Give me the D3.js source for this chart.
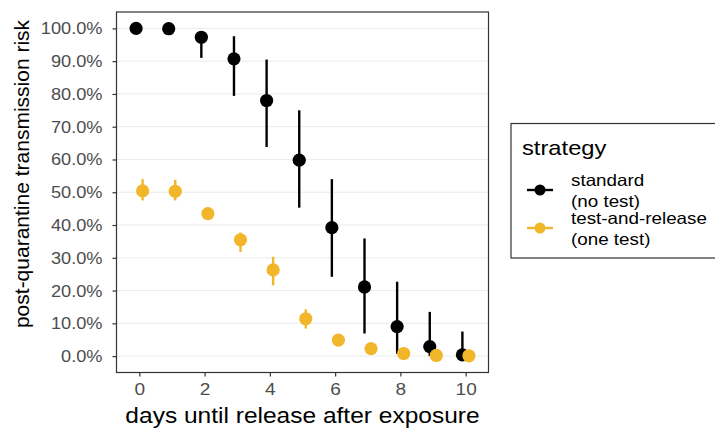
<!DOCTYPE html>
<html>
<head>
<meta charset="utf-8">
<script src="https://cdn.jsdelivr.net/npm/d3@7"></script>
<style>
body { margin: 0; background: #fff; }
svg { font-family: "Liberation Sans", Arial, sans-serif; }
</style>
</head>
<body>
<svg id="chart"></svg>
<script>
var width = 715;
var height = 433;

// data
var days = [0, 1, 2, 3, 4, 5, 6, 7, 8, 9, 10];
var standardMid = [100, 99.9, 97.3, 90.7, 78.0, 59.8, 39.2, 21.1, 9.0, 2.9, 0.4];
var standardLo  = [100, 99.8, 91.0, 79.4, 63.8, 45.3, 24.2, 6.9, 0.7, 0.0, 0.0];
var standardHi  = [100, 100, 98.5, 97.6, 90.5, 75.0, 54.0, 35.9, 22.7, 13.5, 7.5];
var testMid = [50.4, 50.3, 43.5, 35.5, 26.3, 11.4, 4.9, 2.3, 0.8, 0.2, 0.1];
var testLo  = [47.5, 47.5, 41.8, 31.8, 21.6, 8.4, 4.0, 1.8, 0.5, 0.1, 0.0];
var testHi  = [54.0, 53.8, 45.5, 37.7, 30.3, 14.3, 5.9, 2.9, 1.2, 0.4, 0.2];
var yTicks = [0, 10, 20, 30, 40, 50, 60, 70, 80, 90, 100];
var xTicks = [0, 2, 4, 6, 8, 10];

var series = [
    {name: 'standard', label: ['standard', '(no test)'], color: '#000000', offset: -0.1,
     mid: standardMid, lo: standardLo, hi: standardHi},
    {name: 'test', label: ['test-and-release', '(one test)'], color: '#f2b62b', offset: 0.1,
     mid: testMid, lo: testLo, hi: testHi}
];

var panel = {left: 116.5, right: 488.5, top: 12, bottom: 372.5};

// the original text is a bit wider than Liberation Sans
function stretch(sel, k){
    sel.each(function(){
        var w = this.getComputedTextLength();
        d3.select(this)
            .attr('textLength', w * k)
            .attr('lengthAdjust', 'spacingAndGlyphs');
    });
}

var xScale = d3.scaleLinear()
                .domain([-0.7, 10.7])
                .range([panel.left, panel.right]);

var yScale = d3.scaleLinear()
                .domain([-5, 105])
                .range([panel.bottom, panel.top]);

var svg = d3.select('#chart')
    .attr('width', width)
    .attr('height', height);

// gridlines
svg.append('g')
    .selectAll('line')
    .data(yTicks)
    .enter()
    .append('line')
        .attr('x1', panel.left)
        .attr('x2', panel.right)
        .attr('y1', d => yScale(d))
        .attr('y2', d => yScale(d))
        .attr('stroke', '#ebebeb')
        .attr('stroke-width', 1);

var yAxis = d3.axisLeft(yScale)
                .tickValues(yTicks)
                .tickFormat(d => d.toFixed(1) + '%')
                .tickSize(4)
                .tickPadding(10);

var xAxis = d3.axisBottom(xScale)
                .tickValues(xTicks)
                .tickSize(4)
                .tickPadding(6);

var gy = svg.append('g')
    .attr('transform', 'translate(' + panel.left + ',0)')
    .call(yAxis);

var gx = svg.append('g')
    .attr('transform', 'translate(0,' + panel.bottom + ')')
    .call(xAxis);

[gx, gy].forEach(function(g){
    g.select('.domain').remove();
    g.selectAll('.tick line').attr('stroke', '#333').attr('stroke-width', 1.2);
    g.selectAll('.tick text')
        .attr('fill', '#4d4d4d')
        .style('font-size', '17px')
        .style('font-family', '"Liberation Sans", Arial, sans-serif');
});
stretch(gx.selectAll('.tick text'), 1.12);
stretch(gy.selectAll('.tick text'), 1.07);

// error bars and points
series.forEach(function(s){
    var g = svg.append('g');
    g.selectAll('line')
        .data(days)
        .enter()
        .append('line')
            .attr('x1', (d, i) => xScale(d + s.offset))
            .attr('x2', (d, i) => xScale(d + s.offset))
            .attr('y1', (d, i) => yScale(s.lo[i]))
            .attr('y2', (d, i) => yScale(s.hi[i]))
            .attr('stroke', s.color)
            .attr('stroke-width', 2.4);
    g.selectAll('circle')
        .data(days)
        .enter()
        .append('circle')
            .attr('cx', (d, i) => xScale(d + s.offset))
            .attr('cy', (d, i) => yScale(s.mid[i]))
            .attr('r', 6.6)
            .attr('fill', s.color);
});

// panel border
svg.append('rect')
    .attr('x', panel.left)
    .attr('y', panel.top)
    .attr('width', panel.right - panel.left)
    .attr('height', panel.bottom - panel.top)
    .attr('fill', 'none')
    .attr('stroke', '#333')
    .attr('stroke-width', 1.2);

// axis titles
var xTitle = svg.append('text')
    .attr('x', (panel.left + panel.right) / 2)
    .attr('y', 423)
    .style('text-anchor', 'middle')
    .style('font-size', '21.5px')
    .text('days until release after exposure');
stretch(xTitle, 1.14);

svg.append('text')
    .attr('x', -174)
    .attr('y', 29)
    .attr('transform', 'rotate(-90)')
    .style('text-anchor', 'middle')
    .style('font-size', '21px')
    .text('post-quarantine transmission risk');

// legend
var legend = svg.append('g');
legend.append('rect')
    .attr('x', 511)
    .attr('y', 123.5)
    .attr('width', 220)
    .attr('height', 134.5)
    .attr('fill', 'none')
    .attr('stroke', '#333')
    .attr('stroke-width', 1.2);

var legendTitle = legend.append('text')
    .attr('x', 522)
    .attr('y', 155)
    .style('font-size', '21px')
    .text('strategy');
stretch(legendTitle, 1.13);

var keyY = [190, 228];
series.forEach(function(s, i){
    legend.append('line')
        .attr('x1', 527).attr('x2', 553)
        .attr('y1', keyY[i]).attr('y2', keyY[i])
        .attr('stroke', s.color)
        .attr('stroke-width', 2.4);
    legend.append('circle')
        .attr('cx', 540).attr('cy', keyY[i])
        .attr('r', 5.5)
        .attr('fill', s.color);
    var t1 = legend.append('text')
        .attr('x', 571)
        .attr('y', keyY[i] - 4)
        .style('font-size', '16.5px')
        .text(s.label[0]);
    var t2 = legend.append('text')
        .attr('x', 571)
        .attr('y', keyY[i] + 16.5)
        .style('font-size', '16.5px')
        .text(s.label[1]);
    stretch(t1, 1.14);
    stretch(t2, 1.14);
});
</script>
</body>
</html>
